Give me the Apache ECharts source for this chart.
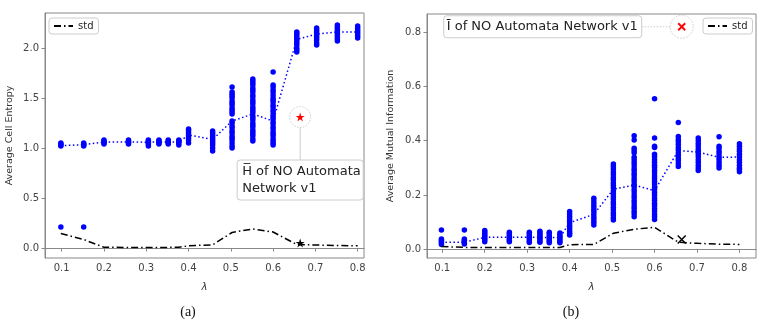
<!DOCTYPE html>
<html>
<head>
<meta charset="utf-8">
<script src="https://cdn.jsdelivr.net/npm/echarts@6/dist/echarts.min.js"></script>
<style>
html,body{margin:0;padding:0;background:#fff;}
#c{width:765px;height:323px;}
</style>
</head>
<body>
<div id="c"></div>
<script>
// ---------------- DATA ----------------
const lambdas = [0.098, 0.152, 0.2, 0.258, 0.305, 0.33, 0.352, 0.377, 0.4, 0.457, 0.503, 0.552, 0.6, 0.656, 0.703, 0.752, 0.8];

// (a) average cell entropy, one list of run values per lambda
const entropyPoints = [
  [1.02, 1.03, 1.04, 1.05, 0.21],
  [1.02, 1.03, 1.04, 1.05, 0.21],
  [1.04, 1.05, 1.06, 1.07, 1.08],
  [1.04, 1.05, 1.06, 1.07, 1.08],
  [1.02, 1.04, 1.05, 1.06, 1.07, 1.08],
  [1.04, 1.05, 1.06, 1.07, 1.08],
  [1.04, 1.05, 1.06, 1.07, 1.08],
  [1.03, 1.05, 1.06, 1.07, 1.08],
  [1.05, 1.08, 1.1, 1.12, 1.14, 1.16, 1.18, 1.19],
  [0.97, 1.0, 1.03, 1.05, 1.07, 1.09, 1.11, 1.13, 1.15, 1.17],
  [1.61, 1.56, 1.54, 1.52, 1.5, 1.47, 1.45, 1.43, 1.4, 1.38, 1.36, 1.34, 1.27, 1.25, 1.22, 1.2, 1.17, 1.15, 1.12, 1.1, 1.08, 1.05, 1.02, 1.0],
  [1.69, 1.67, 1.65, 1.63, 1.6, 1.58, 1.56, 1.53, 1.51, 1.48, 1.46, 1.44, 1.41, 1.39, 1.37, 1.35, 1.32, 1.3, 1.28, 1.25, 1.23, 1.21, 1.18, 1.16, 1.14, 1.12, 1.09, 1.07],
  [1.76, 1.63, 1.61, 1.58, 1.56, 1.53, 1.5, 1.48, 1.46, 1.43, 1.41, 1.38, 1.36, 1.33, 1.31, 1.29, 1.26, 1.24, 1.21, 1.19, 1.16, 1.14, 1.12, 1.09, 1.07, 1.05, 1.03],
  [1.96, 1.98, 2.0, 2.03, 2.05, 2.07, 2.09, 2.11, 2.13, 2.15, 2.16],
  [2.03, 2.05, 2.08, 2.1, 2.12, 2.14, 2.16, 2.18, 2.2],
  [2.07, 2.09, 2.11, 2.13, 2.15, 2.17, 2.19, 2.21, 2.23],
  [2.1, 2.12, 2.14, 2.16, 2.18, 2.2, 2.22]
];
const entropyMean = [1.023, 1.033, 1.06, 1.06, 1.058, 1.06, 1.06, 1.06, 1.13, 1.085, 1.27, 1.34, 1.27, 2.085, 2.14, 2.16, 2.16];
const entropyStd = [0.145, 0.085, 0.007, 0.006, 0.006, 0.006, 0.006, 0.008, 0.022, 0.032, 0.155, 0.19, 0.16, 0.035, 0.03, 0.025, 0.022];
const nanEntropy = [0.664, 1.31];      // red star: H of NO Automata Network v1
const nanEntropyStd = [0.664, 0.05];   // black star

// (b) average mutual information
const miPoints = [
  [0.071, 0.038, 0.033, 0.028, 0.023, 0.018],
  [0.071, 0.038, 0.033, 0.028, 0.024, 0.02],
  [0.069, 0.064, 0.058, 0.052, 0.046, 0.04, 0.034, 0.028],
  [0.063, 0.057, 0.051, 0.045, 0.039, 0.033, 0.028],
  [0.063, 0.057, 0.05, 0.044, 0.038, 0.031, 0.025],
  [0.067, 0.061, 0.055, 0.049, 0.043, 0.037, 0.031, 0.026],
  [0.063, 0.057, 0.05, 0.043, 0.036, 0.03, 0.024],
  [0.06, 0.054, 0.048, 0.042, 0.036, 0.03, 0.024],
  [0.139, 0.13, 0.121, 0.112, 0.103, 0.094, 0.085, 0.076, 0.067, 0.059, 0.053],
  [0.188, 0.178, 0.168, 0.158, 0.148, 0.138, 0.128, 0.118, 0.109, 0.1, 0.09],
  [0.314, 0.305, 0.296, 0.285, 0.276, 0.265, 0.256, 0.245, 0.236, 0.226, 0.215, 0.206, 0.195, 0.186, 0.175, 0.166, 0.155, 0.146, 0.135, 0.126, 0.116, 0.108],
  [0.418, 0.403, 0.372, 0.364, 0.356, 0.339, 0.33, 0.32, 0.311, 0.3, 0.291, 0.28, 0.271, 0.26, 0.251, 0.24, 0.231, 0.22, 0.211, 0.2, 0.191, 0.18, 0.171, 0.16, 0.151, 0.14, 0.131, 0.12],
  [0.555, 0.41, 0.38, 0.375, 0.35, 0.341, 0.33, 0.321, 0.31, 0.301, 0.29, 0.281, 0.27, 0.261, 0.25, 0.241, 0.23, 0.221, 0.21, 0.201, 0.19, 0.181, 0.17, 0.161, 0.15, 0.141, 0.13, 0.121, 0.11],
  [0.467, 0.416, 0.405, 0.396, 0.386, 0.375, 0.366, 0.355, 0.346, 0.335, 0.326, 0.315, 0.305],
  [0.41, 0.4, 0.39, 0.381, 0.37, 0.361, 0.35, 0.341, 0.33, 0.321, 0.31, 0.3, 0.29],
  [0.415, 0.38, 0.371, 0.36, 0.351, 0.34, 0.331, 0.32, 0.31, 0.3],
  [0.389, 0.38, 0.37, 0.361, 0.35, 0.341, 0.33, 0.321, 0.31, 0.3, 0.294, 0.286]
];
const miMean = [0.026, 0.026, 0.044, 0.044, 0.044, 0.044, 0.043, 0.044, 0.098, 0.129, 0.221, 0.237, 0.216, 0.364, 0.358, 0.339, 0.34];
const miStd = [0.01, 0.007, 0.007, 0.007, 0.007, 0.007, 0.007, 0.007, 0.017, 0.018, 0.059, 0.074, 0.081, 0.026, 0.022, 0.019, 0.018];
const nanMI = [0.664, 0.82];       // red x: I of NO Automata Network v1
const nanMIStd = [0.664, 0.036];   // black x

const xTicks = [0.1, 0.2, 0.3, 0.4, 0.5, 0.6, 0.7, 0.8];
const yTicksA = [0, 0.5, 1.0, 1.5, 2.0];
const yTicksB = [0, 0.2, 0.4, 0.6, 0.8];

// ---------------- CHART ----------------
const pairs = (vals) => lambdas.map((l, i) => [l, vals[i]]);
const strips = (pts) => { const out = []; pts.forEach((arr, i) => arr.forEach(v => out.push([lambdas[i], v]))); return out; };

const FONT = 'DejaVu Sans';
const BLUE = '#0000ff';
const STAR = 'path://M50,0 L61.17,34.63 L97.55,34.55 L68.07,55.87 L79.39,90.45 L50,69 L20.61,90.45 L31.93,55.87 L2.45,34.55 L38.83,34.63 Z';
const XMARK = 'path://M0,0 L10,10 M10,0 L0,10';
const DASHDOT = [7, 3, 1.5, 3];

function xAxisCfg(gi, min, max) {
  return {
    type: 'value', gridIndex: gi, min: min, max: max,
    name: 'λ', nameLocation: 'middle', nameGap: 24,
    nameTextStyle: { fontFamily: FONT, fontSize: 10, fontStyle: 'italic', color: '#333' },
    axisLine: { show: true, lineStyle: { color: '#888', width: 1 } },
    axisTick: { show: true, length: 3.5, lineStyle: { color: '#888' }, customValues: xTicks },
    axisLabel: { customValues: xTicks, fontFamily: FONT, fontSize: 10, color: '#444', margin: 5, formatter: v => v.toFixed(1) },
    splitLine: { show: false }
  };
}
function yAxisCfg(gi, min, max, ticks, name, gap) {
  return {
    type: 'value', gridIndex: gi, min: min, max: max,
    name: name, nameLocation: 'middle', nameGap: gap, nameRotate: 90,
    nameTextStyle: { fontFamily: FONT, fontSize: 9.5, color: '#333' },
    axisLine: { show: true, lineStyle: { color: '#888', width: 1 } },
    axisTick: { show: true, length: 3.5, lineStyle: { color: '#888' }, customValues: ticks },
    axisLabel: { customValues: ticks, fontFamily: FONT, fontSize: 10, color: '#444', margin: 6, formatter: v => v.toFixed(1) },
    splitLine: { show: false }
  };
}
function legendCfg(left) {
  return {
    left: left, top: 18, padding: [3, 5, 3, 4], itemWidth: 19, itemHeight: 8, data: [{ name: 'std' }],
    backgroundColor: '#fff', borderColor: '#ccc', borderWidth: 1, borderRadius: 3,
    itemStyle: { color: 'transparent', borderColor: 'transparent', borderWidth: 0, opacity: 0 },
    textStyle: { fontFamily: FONT, fontSize: 10, color: '#222' }, itemGap: 5, selectedMode: false
  };
}

const chart = echarts.init(document.getElementById('c'), null, { renderer: 'canvas' });
const option = {
  animation: false,
  backgroundColor: '#fff',
  grid: [
    { left: 45, top: 13, width: 319, height: 245, show: true, borderColor: '#888', borderWidth: 1, backgroundColor: 'transparent' },
    { left: 427, top: 14, width: 329, height: 244, show: true, borderColor: '#888', borderWidth: 1, backgroundColor: 'transparent' }
  ],
  xAxis: [xAxisCfg(0, 0.0605, 0.815), xAxisCfg(1, 0.064, 0.839)],
  yAxis: [
    yAxisCfg(0, -0.1, 2.35, yTicksA, 'Average Cell Entropy', 30),
    yAxisCfg(1, -0.032, 0.867, yTicksB, 'Average Mutual Information', 31)
  ],
  legend: [legendCfg(49), legendCfg(703)],
  series: [
    // ---- (a)
    { name: 'runs_a', type: 'scatter', xAxisIndex: 0, yAxisIndex: 0, data: strips(entropyPoints), symbolSize: 5.5, itemStyle: { color: BLUE, opacity: 1 }, z: 2 },
    { name: 'mean_a', type: 'line', xAxisIndex: 0, yAxisIndex: 0, data: pairs(entropyMean), symbol: 'none', lineStyle: { color: BLUE, width: 1.5, type: [1.5, 2.5] }, z: 3 },
    { name: 'std', type: 'line', xAxisIndex: 0, yAxisIndex: 0, data: pairs(entropyStd), symbol: 'none', lineStyle: { color: '#000', width: 1.5, type: DASHDOT }, itemStyle: { color: '#000' }, z: 3 },
    { name: 'circ_a', type: 'scatter', xAxisIndex: 0, yAxisIndex: 0, data: [nanEntropy], symbol: 'circle', symbolSize: 21,
      itemStyle: { color: '#fff', opacity: 1, borderColor: '#ccc', borderWidth: 1, borderType: [1.5, 1.5] }, z: 4 },
    { name: 'nan_a', type: 'scatter', xAxisIndex: 0, yAxisIndex: 0, data: [nanEntropy], symbol: STAR, symbolSize: 9, itemStyle: { color: '#ff0000', opacity: 1 }, z: 5 },
    { name: 'nanstd_a', type: 'scatter', xAxisIndex: 0, yAxisIndex: 0, data: [nanEntropyStd], symbol: STAR, symbolSize: 9, itemStyle: { color: '#000', opacity: 1 }, z: 5 },
    // ---- (b)
    { name: 'runs_b', type: 'scatter', xAxisIndex: 1, yAxisIndex: 1, data: strips(miPoints), symbolSize: 5.5, itemStyle: { color: BLUE, opacity: 1 }, z: 2 },
    { name: 'mean_b', type: 'line', xAxisIndex: 1, yAxisIndex: 1, data: pairs(miMean), symbol: 'none', lineStyle: { color: BLUE, width: 1.5, type: [1.5, 2.5] }, z: 3 },
    { name: 'std', type: 'line', xAxisIndex: 1, yAxisIndex: 1, data: pairs(miStd), symbol: 'none', lineStyle: { color: '#000', width: 1.5, type: DASHDOT }, itemStyle: { color: '#000' }, z: 3 },
    { name: 'circ_b', type: 'scatter', xAxisIndex: 1, yAxisIndex: 1, data: [nanMI], symbol: 'circle', symbolSize: 23,
      itemStyle: { color: '#fff', opacity: 1, borderColor: '#ccc', borderWidth: 1, borderType: [1.5, 1.5] }, z: 4 },
    { name: 'nan_b', type: 'scatter', xAxisIndex: 1, yAxisIndex: 1, data: [nanMI], symbol: XMARK, symbolSize: 7,
      itemStyle: { color: 'transparent', opacity: 1, borderColor: '#ff0000', borderWidth: 1.8 }, z: 5 },
    { name: 'nanstd_b', type: 'scatter', xAxisIndex: 1, yAxisIndex: 1, data: [nanMIStd], symbol: XMARK, symbolSize: 8,
      itemStyle: { color: 'transparent', opacity: 1, borderColor: '#000', borderWidth: 1.5 }, z: 5 }
  ]
};
chart.setOption(option);

// annotation boxes placed relative to the markers
const pa = chart.convertToPixel({ xAxisIndex: 0, yAxisIndex: 0 }, nanEntropy);
const pb = chart.convertToPixel({ xAxisIndex: 1, yAxisIndex: 1 }, nanMI);
chart.setOption({
  graphic: [
    { type: 'line', shape: { x1: pa[0], y1: pa[1] + 10.5, x2: pa[0], y2: pa[1] + 43 }, style: { stroke: '#ccc', lineWidth: 1 }, z: 10 },
    { type: 'rect', shape: { x: pa[0] - 63, y: pa[1] + 43, width: 126, height: 40, r: 3 }, style: { fill: '#fff', stroke: '#ccc', lineWidth: 1 }, z: 10 },
    { type: 'text', x: pa[0] - 58, y: pa[1] + 46, style: { text: 'H\u0305 of NO Automata\nNetwork v1', font: '13px "DejaVu Sans"', fill: '#222', lineHeight: 17 }, z: 11 },
    { type: 'line', shape: { x1: pb[0] - 40, y1: pb[1], x2: pb[0] - 11.5, y2: pb[1] }, style: { stroke: '#ccc', lineWidth: 1, lineDash: [1.5, 1.5] }, z: 10 },
    { type: 'rect', shape: { x: pb[0] - 238, y: pb[1] - 11, width: 198, height: 22, r: 3 }, style: { fill: '#fff', stroke: '#ccc', lineWidth: 1 }, z: 10 },
    { type: 'text', x: pb[0] - 235, y: pb[1], style: { text: 'Ī of NO Automata Network v1', font: '13px "DejaVu Sans"', fill: '#222', verticalAlign: 'middle' }, z: 11 },
    { type: 'text', x: 188, y: 312, style: { text: '(a)', font: '14px "Liberation Serif"', fill: '#111', align: 'center', verticalAlign: 'middle' }, z: 11 },
    { type: 'text', x: 571, y: 312, style: { text: '(b)', font: '14px "Liberation Serif"', fill: '#111', align: 'center', verticalAlign: 'middle' }, z: 11 }
  ]
});
</script>
</body>
</html>
